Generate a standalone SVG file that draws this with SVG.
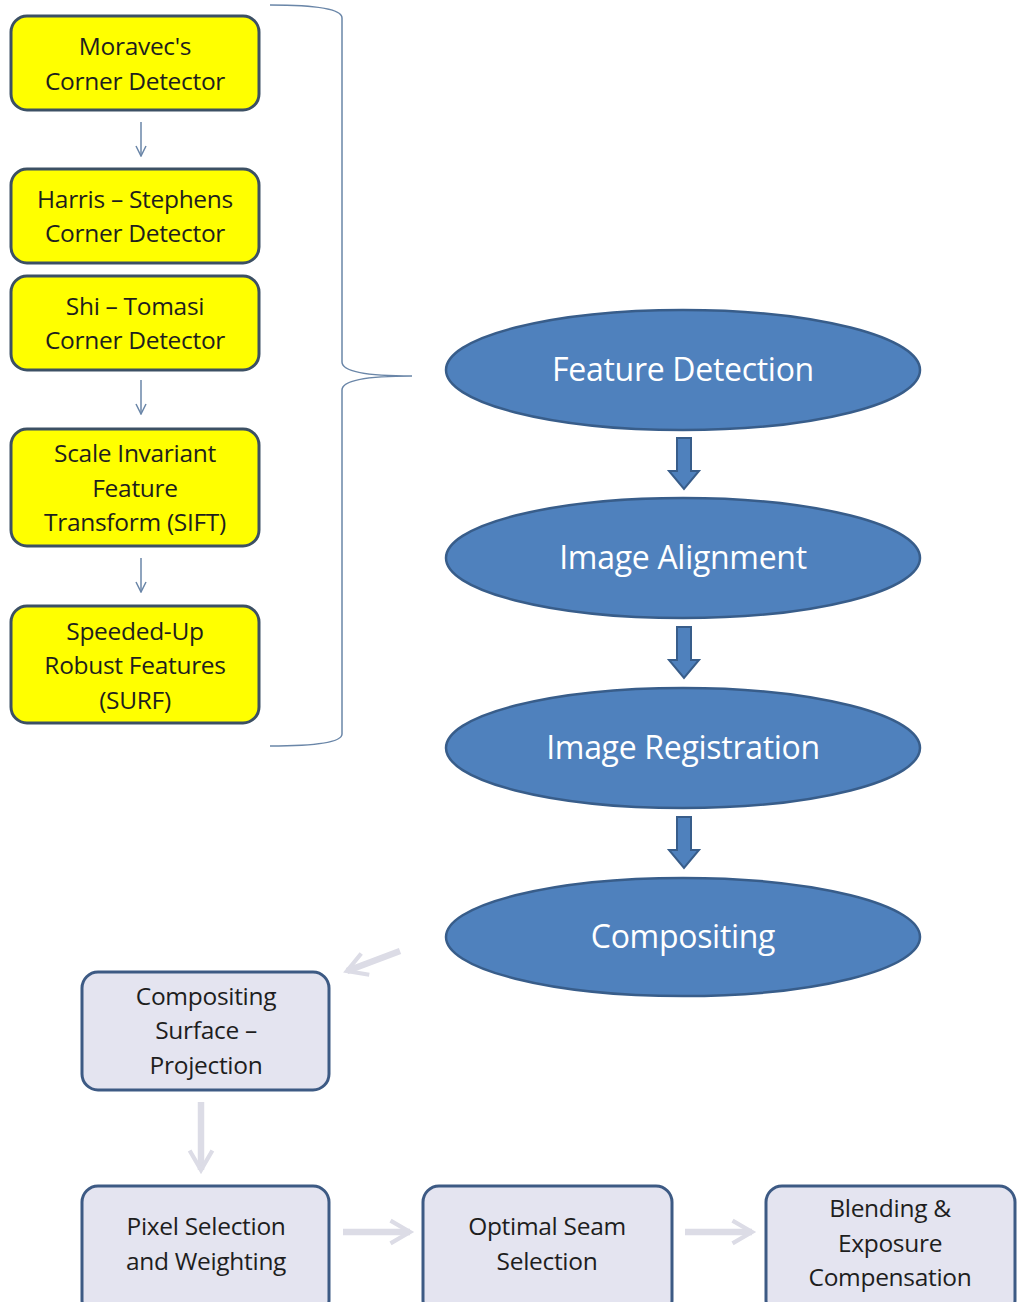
<svg xmlns="http://www.w3.org/2000/svg" width="1019" height="1302" viewBox="0 0 1019 1302">
<defs>
<style>
.yb{fill:#ffff00;stroke:#3c5064;stroke-width:3}
.lb{fill:#e4e4f0;stroke:#3d5a84;stroke-width:3}
.el{fill:#4f81bd;stroke:#385d8a;stroke-width:2.5}
.t{font-family:"Open Sans","DejaVu Sans",sans-serif;font-size:24.5px;fill:#1e1e1e;text-anchor:middle;letter-spacing:-0.3px}
.et{font-family:"Open Sans","DejaVu Sans",sans-serif;font-size:32px;fill:#ffffff;text-anchor:middle;letter-spacing:-0.3px}
.thin{fill:none;stroke:#6a86a8;stroke-width:1.5}
.barrow{fill:#4f81bd;stroke:#385d8a;stroke-width:2}
.garrow{fill:none;stroke:#dcdce6;stroke-width:6.5;stroke-linecap:butt}
</style>
<marker id="open" viewBox="0 0 12 12" refX="11" refY="6" markerWidth="12" markerHeight="12" markerUnits="userSpaceOnUse" orient="auto">
<path d="M1,1 L11,6 L1,11" fill="none" stroke="#6a86a8" stroke-width="1.5"/>
</marker>
<marker id="gopen" viewBox="0 0 10 10" refX="8" refY="5" markerWidth="5" markerHeight="5" orient="auto">
<path d="M2,1.5 L8,5 L2,8.5" fill="none" stroke="#dcdce6" stroke-width="1.3"/>
</marker>
</defs>
<rect width="1019" height="1302" fill="#ffffff"/>
<g id="connectors">
<line class="thin" x1="141" y1="122" x2="141" y2="156" marker-end="url(#open)"/>
<line class="thin" x1="141" y1="380" x2="141" y2="414" marker-end="url(#open)"/>
<line class="thin" x1="141" y1="558" x2="141" y2="592" marker-end="url(#open)"/>
<path class="thin" d="M270,5 Q342,5 342,18 L342,362 Q342,376 412,376 Q342,376 342,390 L342,734 Q342,746 270,746"/>
<path class="barrow" d="M677,438 L691,438 L691,471 L699,471 L684,489 L669,471 L677,471 Z"/>
<path class="barrow" d="M677,627 L691,627 L691,660 L699,660 L684,678 L669,660 L677,660 Z"/>
<path class="barrow" d="M677,817 L691,817 L691,850 L699,850 L684,868 L669,850 L677,850 Z"/>
<line class="garrow" x1="400" y1="951" x2="347" y2="971" marker-end="url(#gopen)"/>
<line class="garrow" x1="201" y1="1102" x2="201" y2="1170" marker-end="url(#gopen)"/>
<line class="garrow" x1="343" y1="1232" x2="410" y2="1232" marker-end="url(#gopen)"/>
<line class="garrow" x1="685" y1="1232" x2="752" y2="1232" marker-end="url(#gopen)"/>
</g>
<g id="moravec"><rect class="yb" x="11" y="16" width="248" height="94" rx="16"/><text class="t" x="135" y="55">Moravec's</text><text class="t" x="135" y="90">Corner Detector</text></g>
<g id="harris"><rect class="yb" x="11" y="169" width="248" height="94" rx="16"/><text class="t" x="135" y="208">Harris – Stephens</text><text class="t" x="135" y="242">Corner Detector</text></g>
<g id="shi"><rect class="yb" x="11" y="276" width="248" height="94" rx="16"/><text class="t" x="135" y="315">Shi – Tomasi</text><text class="t" x="135" y="349">Corner Detector</text></g>
<g id="sift"><rect class="yb" x="11" y="429" width="248" height="117" rx="16"/><text class="t" x="135" y="462">Scale Invariant</text><text class="t" x="135" y="497">Feature</text><text class="t" x="135" y="531">Transform (SIFT)</text></g>
<g id="surf"><rect class="yb" x="11" y="606" width="248" height="117" rx="16"/><text class="t" x="135" y="640">Speeded-Up</text><text class="t" x="135" y="674">Robust Features</text><text class="t" x="135" y="709">(SURF)</text></g>
<g id="feature-detection"><ellipse class="el" cx="683" cy="370" rx="237" ry="60"/><text class="et" x="683" y="381">Feature Detection</text></g>
<g id="image-alignment"><ellipse class="el" cx="683" cy="558" rx="237" ry="60"/><text class="et" x="683" y="569">Image Alignment</text></g>
<g id="image-registration"><ellipse class="el" cx="683" cy="748" rx="237" ry="60"/><text class="et" x="683" y="759">Image Registration</text></g>
<g id="compositing"><ellipse class="el" cx="683" cy="937" rx="237" ry="59"/><text class="et" x="683" y="948">Compositing</text></g>
<g id="surface"><rect class="lb" x="82" y="972" width="247" height="118" rx="16"/><text class="t" x="206" y="1005">Compositing</text><text class="t" x="206" y="1039">Surface –</text><text class="t" x="206" y="1074">Projection</text></g>
<g id="pixel"><rect class="lb" x="82" y="1186" width="247" height="130" rx="16"/><text class="t" x="206" y="1235">Pixel Selection</text><text class="t" x="206" y="1270">and Weighting</text></g>
<g id="seam"><rect class="lb" x="423" y="1186" width="249" height="130" rx="16"/><text class="t" x="547" y="1235">Optimal Seam</text><text class="t" x="547" y="1270">Selection</text></g>
<g id="blending"><rect class="lb" x="766" y="1186" width="249" height="130" rx="16"/><text class="t" x="890" y="1217">Blending &amp;</text><text class="t" x="890" y="1252">Exposure</text><text class="t" x="890" y="1286">Compensation</text></g>
</svg>
